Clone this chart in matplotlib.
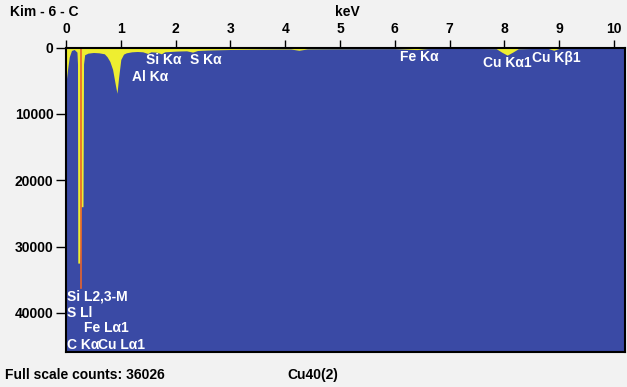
import numpy as np
import matplotlib
matplotlib.use("Agg")
import matplotlib.pyplot as plt

# spectrum (keV, counts)
energy = [0.00, 0.03, 0.06, 0.10, 0.15, 0.20, 0.21, 0.215, 0.25, 0.265, 0.275, 0.31,
          0.32, 0.34, 0.40, 0.50, 0.60, 0.70, 0.75, 0.80, 0.85, 0.90, 0.93, 0.96,
          1.00, 1.05, 1.10, 1.20, 1.30, 1.40, 1.49, 1.55, 1.65, 1.74, 1.80, 1.90,
          2.00, 2.10, 2.20, 2.31, 2.40, 2.60, 2.80, 3.00, 3.30, 3.60, 3.90, 4.10,
          4.25, 4.40, 4.70, 5.00, 5.50, 6.00, 6.40, 6.60, 7.00, 7.50, 7.85, 7.95,
          8.05, 8.15, 8.25, 8.50, 8.80, 8.90, 9.00, 9.50, 10.00, 10.20]
counts = [5300, 3200, 1400, 450, 300, 700, 2500, 32500, 32500, 30000, 24000, 24000,
          2500, 1100, 850, 750, 800, 950, 1400, 2100, 3300, 5600, 6900, 4500,
          1800, 1000, 800, 650, 600, 650, 900, 650, 700, 950, 650, 600,
          550, 520, 500, 700, 450, 380, 340, 300, 280, 260, 240, 230,
          420, 220, 200, 190, 180, 170, 320, 160, 150, 150, 180, 700,
          1150, 700, 200, 150, 150, 420, 150, 130, 120, 120]

marker_kev = 0.277
marker_counts = 36200

xticks = list(range(0, 11))
yticks = [0, 10000, 20000, 30000, 40000]

# peak labels: (text, keV, counts)
peak_labels = [
    ("Al Kα", 1.20, 4450),
    ("Si Kα", 1.46, 1900),
    ("S Kα", 2.27, 1900),
    ("Fe Kα", 6.10, 1430),
    ("Cu Kα1", 7.60, 2340),
    ("Cu Kβ1", 8.50, 1580),
    ("Si L2,3-M", 0.02, 37600),
    ("S Ll", 0.02, 40000),
    ("Fe Lα1", 0.32, 42300),
    ("C Kα", 0.02, 44900),
    ("Cu Lα1", 0.58, 44900),
]

blue = "#3a4aa5"
yellow = "#eeee30"

plt.rcParams["font.family"] = ["Liberation Sans", "DejaVu Sans"]
plt.rcParams["font.weight"] = "bold"

fig = plt.figure(figsize=(6.27, 3.87), dpi=100, facecolor="#f2f2f2")
ax = fig.add_axes([66 / 627, 1 - 352 / 387, 559 / 627, 304.5 / 387])
ax.set_facecolor(blue)

ax.fill_between(energy, 0, counts, color=yellow, linewidth=0)
ax.plot([marker_kev, marker_kev], [0, marker_counts], color="#e8642c", linewidth=1.2)

ax.set_xlim(0, 10.2)
ax.set_ylim(45900, 0)

ax.xaxis.tick_top()
ax.set_xticks(xticks)
ax.set_yticks(yticks)
ax.tick_params(axis="x", direction="out", length=6, width=1, pad=2, labelsize=10, colors="black")
ax.tick_params(axis="y", direction="out", length=7, width=1, pad=2, labelsize=10, colors="black")
for lab in ax.get_xticklabels() + ax.get_yticklabels():
    lab.set_fontweight("bold")
for s in ax.spines.values():
    s.set_color("black")
    s.set_linewidth(1.5)

for txt, x, y in peak_labels:
    ax.text(x, y, txt, color="white", fontsize=10, fontweight="bold", va="center", ha="left")

fig.text(10 / 627, 1 - 12 / 387, "Kim - 6 - C", fontsize=10, fontweight="bold", va="center")
fig.text(335 / 627, 1 - 12 / 387, "keV", fontsize=10, fontweight="bold", va="center")
fig.text(5 / 627, 1 - 375 / 387, "Full scale counts: 36026", fontsize=10, fontweight="bold", va="center")
fig.text(287 / 627, 1 - 375 / 387, "Cu40(2)", fontsize=10, fontweight="bold", va="center")

fig.savefig("out.png", dpi=100, facecolor=fig.get_facecolor())
